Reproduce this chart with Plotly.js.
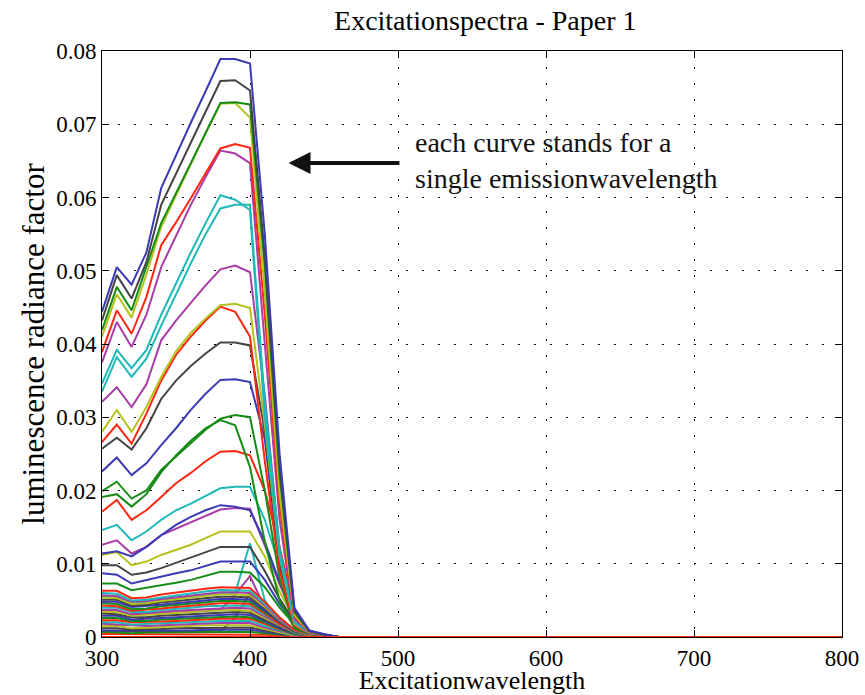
<!DOCTYPE html>
<html>
<head>
<meta charset="utf-8">
<script src="https://cdn.plot.ly/plotly-3.0.1.min.js"></script>
<style>html,body{margin:0;padding:0;background:#fff;}#chart{width:865px;height:695px;}</style>
</head>
<body>
<div id="chart"></div>
<script>
// Excitation wavelengths (nm) sampled for each curve
const wavelengths = [300,310,320,330,340,350,360,370,380,390,400,410,420,430,440,450,460];
const wavelengthsFull = [300,310,320,330,340,350,360,370,380,390,400,410,420,430,440,450,460,470,480,490,500,510,520,530,540,550,560,570,580,590,600,610,620,630,640,650,660,670,680,690,700,710,720,730,740,750,760,770,780,790,800];
const zeroCurve = [0,0,0,0,0,0,0,0,0,0,0,0,0,0,0,0,0,0,0,0,0,0,0,0,0,0,0,0,0,0,0,0,0,0,0,0,0,0,0,0,0,0,0,0,0,0,0,0,0,0,0];

// MATLAB-like colour names
const C = {b:'#3a3ab4', g:'#168c16', r:'#ff2612', c:'#1fb8b8', m:'#a83ca8', y:'#b5c21c', k:'#444444'};

// Upper curves (one per emission wavelength)
const curve01 = [0.0444,0.0505,0.0481,0.0525,0.0613,0.0658,0.0702,0.0745,0.0789,0.0789,0.0783,0.0550,0.0250,0.0040,0.0009,0.0004,0];
const curve02 = [0.0432,0.0494,0.0462,0.0512,0.0590,0.0633,0.0675,0.0717,0.0759,0.0760,0.0746,0.0520,0.0230,0.0036,0.0008,0.0003,0];
const curve03 = [0.0419,0.0478,0.0446,0.0505,0.0565,0.0606,0.0647,0.0688,0.0729,0.0730,0.0727,0.0505,0.0220,0.0034,0.0008,0.0003,0];
const curve04 = [0.0410,0.0468,0.0436,0.0495,0.0560,0.0603,0.0645,0.0688,0.0728,0.0729,0.0709,0.0470,0.0195,0.0030,0.0007,0.0003,0];
const curve05 = [0.0389,0.0446,0.0414,0.0464,0.0535,0.0566,0.0599,0.0633,0.0667,0.0673,0.0668,0.0440,0.0180,0.0028,0.0007,0.0003,0];
const curve06 = [0.0375,0.0430,0.0396,0.0440,0.0505,0.0548,0.0590,0.0628,0.0664,0.0660,0.0647,0.0400,0.0160,0.0025,0.0006,0.0003,0];
const curve07 = [0.0346,0.0392,0.0367,0.0392,0.0440,0.0483,0.0525,0.0565,0.0603,0.0597,0.0583,0.0300,0.0110,0.0020,0.0006,0.0003,0];
const curve08 = [0.0335,0.0382,0.0355,0.0380,0.0425,0.0468,0.0510,0.0550,0.0585,0.0590,0.0590,0.0320,0.0120,0.0021,0.0006,0.0003,0];
const curve09 = [0.0321,0.0341,0.0314,0.0345,0.0405,0.0432,0.0456,0.0480,0.0502,0.0507,0.0498,0.0330,0.0120,0.0020,0.0005,0.0002,0];
const curve10 = [0.0280,0.0310,0.0280,0.0314,0.0355,0.0390,0.0415,0.0435,0.0453,0.0455,0.0449,0.0290,0.0110,0.0018,0.0005,0.0002,0];
const curve11 = [0.0266,0.0290,0.0264,0.0305,0.0350,0.0385,0.0410,0.0432,0.0451,0.0444,0.0410,0.0240,0.0090,0.0016,0.0005,0.0002,0];
const curve12 = [0.0257,0.0272,0.0256,0.0285,0.0325,0.0350,0.0370,0.0387,0.0402,0.0402,0.0398,0.0280,0.0100,0.0017,0.0005,0.0002,0];
const curve13 = [0.0226,0.0245,0.0221,0.0237,0.0262,0.0285,0.0310,0.0332,0.0351,0.0352,0.0348,0.0270,0.0095,0.0016,0.0005,0.0002,0];
const curve14 = [0.0199,0.0212,0.0189,0.0200,0.0228,0.0246,0.0265,0.0283,0.0298,0.0303,0.0300,0.0200,0.0080,0.0014,0.0004,0.0002,0];
const curve15 = [0.0191,0.0195,0.0178,0.0195,0.0225,0.0248,0.0268,0.0285,0.0296,0.0289,0.0232,0.0130,0.0050,0.0012,0.0004,0.0002,0];
const curve16 = [0.0171,0.0187,0.0160,0.0173,0.0191,0.0210,0.0224,0.0240,0.0253,0.0254,0.0248,0.0200,0.0123,0.0037,0.0008,0.0003,0];
const curve17 = [0.0146,0.0153,0.0132,0.0144,0.0160,0.0173,0.0182,0.0193,0.0203,0.0205,0.0205,0.0160,0.0096,0.0033,0.0008,0.0003,0];
const curve18 = [0.0114,0.0117,0.0110,0.0123,0.0139,0.0153,0.0164,0.0173,0.0180,0.0178,0.0173,0.0130,0.0075,0.0028,0.0007,0.0003,0];
const curve19 = [0.0126,0.0132,0.0114,0.0123,0.0139,0.0148,0.0157,0.0166,0.0174,0.0176,0.0175,0.0125,0.0072,0.0027,0.0007,0.0003,0];
const curve20 = [0.0112,0.0116,0.0098,0.0103,0.0112,0.0119,0.0126,0.0135,0.0144,0.0144,0.0144,0.0110,0.0062,0.0024,0.0006,0.0003,0];
const curve21 = [0.0098,0.0098,0.0085,0.0088,0.0094,0.0101,0.0108,0.0115,0.0123,0.0123,0.0123,0.0090,0.0052,0.0021,0.0006,0.0003,0];
const curve22 = [0.0087,0.0085,0.0073,0.0078,0.0082,0.0087,0.0091,0.0097,0.0103,0.0103,0.0103,0.0078,0.0045,0.0019,0.0005,0.0002,0];
const curve23 = [0.0073,0.0073,0.0064,0.0067,0.0071,0.0074,0.0078,0.0083,0.0089,0.0089,0.0088,0.0068,0.0040,0.0017,0.0005,0.0002,0];
// Lower bundle
const curve24 = [0.0063,0.0063,0.0053,0.0054,0.0058,0.0061,0.0063,0.0066,0.0068,0.0068,0.0067,0.0048,0.0027,0.0010,0.0004,0.0002,0];
const curve25 = [0.0060,0.0059,0.0050,0.0051,0.0054,0.0057,0.0060,0.0062,0.0064,0.0064,0.0063,0.0045,0.0026,0.0010,0.0004,0.0002,0];
const curve26 = [0.0057,0.0056,0.0048,0.0049,0.0052,0.0054,0.0057,0.0059,0.0061,0.0061,0.0060,0.0043,0.0024,0.0009,0.0004,0.0002,0];
const curve27 = [0.0054,0.0053,0.0045,0.0046,0.0049,0.0052,0.0054,0.0056,0.0058,0.0058,0.0057,0.0041,0.0023,0.0009,0.0003,0.0002,0];
const curve28 = [0.0051,0.0051,0.0043,0.0044,0.0047,0.0049,0.0051,0.0053,0.0055,0.0055,0.0054,0.0039,0.0022,0.0008,0.0003,0.0002,0];
const curve29 = [0.0048,0.0048,0.0041,0.0042,0.0044,0.0046,0.0048,0.0050,0.0052,0.0052,0.0051,0.0036,0.0021,0.0008,0.0003,0.0002,0];
const curve30 = [0.0046,0.0045,0.0038,0.0039,0.0042,0.0044,0.0046,0.0048,0.0049,0.0049,0.0048,0.0034,0.0020,0.0007,0.0003,0.0001,0];
const curve31 = [0.0043,0.0042,0.0036,0.0037,0.0039,0.0041,0.0043,0.0045,0.0046,0.0046,0.0045,0.0032,0.0018,0.0007,0.0003,0.0001,0];
const curve32 = [0.0040,0.0040,0.0034,0.0034,0.0037,0.0038,0.0040,0.0042,0.0043,0.0043,0.0042,0.0030,0.0017,0.0006,0.0003,0.0001,0];
const curve33 = [0.0037,0.0037,0.0031,0.0032,0.0034,0.0036,0.0037,0.0039,0.0040,0.0040,0.0039,0.0028,0.0016,0.0006,0.0002,0.0001,0];
const curve34 = [0.0034,0.0034,0.0029,0.0030,0.0031,0.0033,0.0034,0.0036,0.0037,0.0037,0.0036,0.0026,0.0015,0.0006,0.0002,0.0001,0];
const curve35 = [0.0032,0.0031,0.0027,0.0027,0.0029,0.0030,0.0032,0.0033,0.0034,0.0034,0.0033,0.0024,0.0014,0.0005,0.0002,0.0001,0];
const curve36 = [0.0029,0.0029,0.0024,0.0025,0.0026,0.0028,0.0029,0.0030,0.0031,0.0031,0.0030,0.0022,0.0012,0.0005,0.0002,0.0001,0];
const curve37 = [0.0026,0.0026,0.0022,0.0022,0.0024,0.0025,0.0026,0.0027,0.0028,0.0028,0.0027,0.0020,0.0011,0.0004,0.0002,0.0001,0];
const curve38 = [0.0023,0.0023,0.0020,0.0020,0.0021,0.0022,0.0023,0.0024,0.0025,0.0025,0.0025,0.0018,0.0010,0.0004,0.0002,0.0001,0];
const curve39 = [0.0020,0.0020,0.0017,0.0018,0.0019,0.0020,0.0020,0.0021,0.0022,0.0022,0.0022,0.0015,0.0009,0.0003,0.0001,0.0001,0];
const curve40 = [0.0018,0.0017,0.0015,0.0015,0.0016,0.0017,0.0018,0.0018,0.0019,0.0019,0.0019,0.0013,0.0008,0.0003,0.0001,0,0];
const curve41 = [0.0015,0.0015,0.0012,0.0013,0.0014,0.0014,0.0015,0.0016,0.0016,0.0016,0.0016,0.0011,0.0006,0.0002,0.0001,0,0];
const curve42 = [0.0012,0.0012,0.0010,0.0010,0.0011,0.0012,0.0012,0.0013,0.0013,0.0013,0.0013,0.0009,0.0005,0.0002,0.0001,0,0];
const curve43 = [0.0009,0.0009,0.0008,0.0008,0.0009,0.0009,0.0009,0.0010,0.0010,0.0010,0.0010,0.0007,0.0004,0.0002,0.0001,0,0];
const curve44 = [0.0007,0.0006,0.0005,0.0006,0.0006,0.0006,0.0007,0.0007,0.0007,0.0007,0.0007,0.0005,0.0003,0.0001,0,0,0];
const curve45 = [0.0004,0.0004,0.0003,0.0003,0.0003,0.0004,0.0004,0.0004,0.0004,0.0004,0.0004,0.0003,0.0002,0.0001,0,0,0];
// Curves with a spike at 400 nm
const curve46 = [0.0055,0.0054,0.0046,0.0047,0.0050,0.0052,0.0055,0.0058,0.0060,0.0060,0.0128,0.0050,0.0022,0.0008,0.0003,0.0001,0];
const curve47 = [0.0036,0.0035,0.0030,0.0031,0.0032,0.0034,0.0035,0.0036,0.0037,0.0058,0.0083,0.0040,0.0020,0.0007,0.0003,0.0001,0];
const curve48 = [0.0008,0.0008,0.0007,0.0007,0.0007,0.0008,0.0008,0.0008,0.0008,0.0026,0.0060,0.0030,0.0015,0.0005,0.0002,0.0001,0];

const curves = [curve01,curve02,curve03,curve04,curve05,curve06,curve07,curve08,curve09,curve10,
  curve11,curve12,curve13,curve14,curve15,curve16,curve17,curve18,curve19,curve20,curve21,curve22,curve23,
  curve24,curve25,curve26,curve27,curve28,curve29,curve30,curve31,curve32,curve33,curve34,curve35,curve36,
  curve37,curve38,curve39,curve40,curve41,curve42,curve43,curve44,curve45,curve46,curve47,curve48];
const colorKeys = ['b','k','g','y','r','m','c','c','m','y','r','k','b','g','g','r','c','b','m','y','k','b','g',
  'r','c','m','y','k','b','g','r','c','m','y','k','b','g','r','c','m','y','k','b','g','r','c','m',
  'k','y','m'];

const serif = 'Liberation Serif, Times New Roman, serif';
const traces = [];
for (let i = curves.length - 1; i >= 0; i--) {
  traces.push({x: wavelengths, y: curves[i], type: 'scatter', mode: 'lines',
    line: {color: C[colorKeys[i]], width: 2}, hoverinfo: 'x+y', showlegend: false});
}
traces.push({x: wavelengthsFull, y: zeroCurve, type: 'scatter', mode: 'lines',
  line: {color: C.r, width: 2}, showlegend: false});

const axisCommon = {
  showline: true, linecolor: '#000', linewidth: 1, mirror: 'ticks',
  ticks: 'inside', ticklen: 7, tickcolor: '#000', tickwidth: 1,
  showgrid: true, gridcolor: '#000', gridwidth: 1, griddash: '2px,14px',
  zeroline: false, tickfont: {family: serif, size: 23, color: '#000'}
};

const layout = {
  width: 865, height: 695,
  margin: {l: 102, r: 23, t: 51, b: 58},
  paper_bgcolor: '#fff', plot_bgcolor: '#fff',
  title: {text: 'Excitationspectra - Paper 1', font: {family: serif, size: 28, color: '#000'},
    xref: 'container', x: 0.561, xanchor: 'center', yref: 'container', y: 0.971, yanchor: 'middle'},
  xaxis: Object.assign({}, axisCommon, {range: [300, 800], dtick: 100, tick0: 300,
    title: {text: 'Excitationwavelength', font: {family: serif, size: 26, color: '#000'}, standoff: 6}}),
  yaxis: Object.assign({}, axisCommon, {range: [0, 0.08], dtick: 0.01, tick0: 0,
    title: {text: 'luminescence radiance factor', font: {family: serif, size: 31, color: '#000'}, standoff: 2}}),
  annotations: [
    {x: 426, y: 0.0647, ax: 502, ay: 0.0647, axref: 'x', ayref: 'y', xref: 'x', yref: 'y',
     showarrow: true, arrowhead: 2, arrowsize: 1.1, arrowwidth: 4, arrowcolor: '#111', text: ''},
    {x: 510, y: 0.0651, xref: 'x', yref: 'y', xanchor: 'left', yanchor: 'middle', align: 'left',
     showarrow: false, text: 'each curve stands for a<br>single emissionwavelength',
     font: {family: serif, size: 28, color: '#111'}}
  ]
};

Plotly.newPlot('chart', traces, layout, {displayModeBar: false, staticPlot: true});
</script>
</body>
</html>
